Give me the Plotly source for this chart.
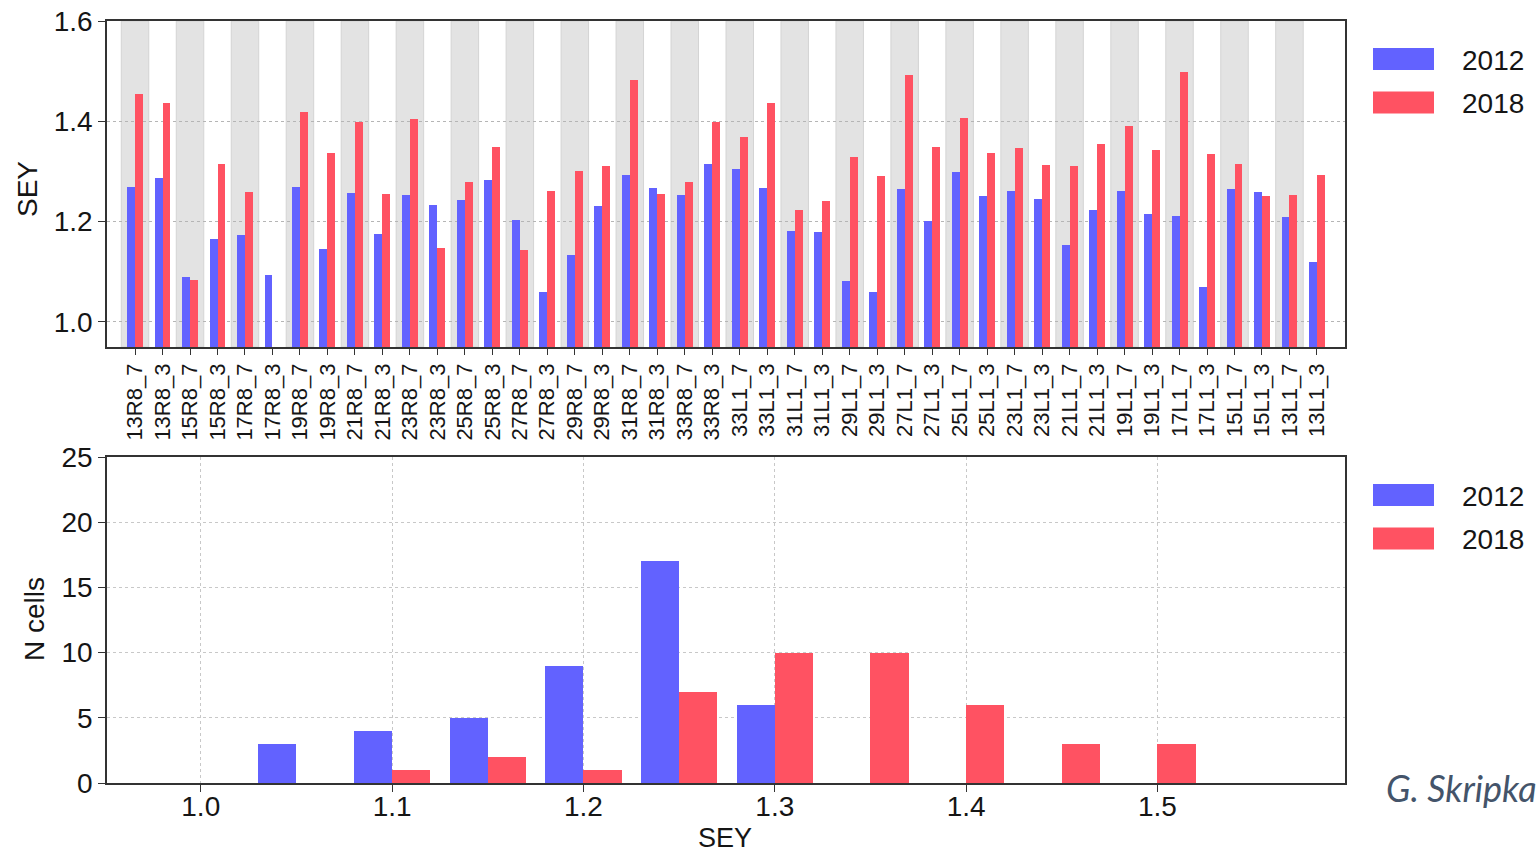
import plotly.graph_objects as go

# ---------------- data ----------------
cells = ["13R8_7", "13R8_3", "15R8_7", "15R8_3", "17R8_7", "17R8_3", "19R8_7", "19R8_3",
         "21R8_7", "21R8_3", "23R8_7", "23R8_3", "25R8_7", "25R8_3", "27R8_7", "27R8_3",
         "29R8_7", "29R8_3", "31R8_7", "31R8_3", "33R8_7", "33R8_3", "33L1_7", "33L1_3",
         "31L1_7", "31L1_3", "29L1_7", "29L1_3", "27L1_7", "27L1_3", "25L1_7", "25L1_3",
         "23L1_7", "23L1_3", "21L1_7", "21L1_3", "19L1_7", "19L1_3", "17L1_7", "17L1_3",
         "15L1_7", "15L1_3", "13L1_7", "13L1_3"]

sey_2012 = [1.270, 1.287, 1.090, 1.165, 1.173, 1.093, 1.270, 1.145,
            1.257, 1.176, 1.254, 1.234, 1.243, 1.282, 1.204, 1.059,
            1.134, 1.232, 1.293, 1.268, 1.254, 1.315, 1.304, 1.268,
            1.182, 1.179, 1.082, 1.059, 1.265, 1.201, 1.298, 1.251,
            1.262, 1.246, 1.154, 1.223, 1.262, 1.215, 1.212, 1.070,
            1.265, 1.260, 1.209, 1.120]

sey_2018 = [1.454, 1.437, 1.084, 1.315, 1.260, None, 1.418, 1.337,
            1.399, 1.256, 1.404, 1.148, 1.279, 1.349, 1.143, 1.262,
            1.301, 1.310, 1.482, 1.256, 1.279, 1.399, 1.368, 1.437,
            1.223, 1.242, 1.329, 1.290, 1.493, 1.349, 1.407, 1.337,
            1.346, 1.312, 1.310, 1.354, 1.391, 1.343, 1.499, 1.335,
            1.315, 1.251, 1.254, 1.293]

bin_centers = [1.05, 1.10, 1.15, 1.20, 1.25, 1.30, 1.35, 1.40, 1.45, 1.50]
count_2012 = [3, 4, 5, 9, 17, 6, 0, 0, 0, 0]
count_2018 = [0, 1, 2, 1, 7, 10, 10, 6, 3, 3]

years = ["2012", "2018"]

# ---------------- style ----------------
BLUE = "#6262ff"
RED = "#ff5262"
FONT = "Liberation Sans, Arial, sans-serif"
TXT = "#151515"
W, H = 1537, 855


def px_x(p):
    return p / W


def px_y(p):
    return 1 - p / H


fig = go.Figure()

idx = list(range(len(cells)))
bw = 0.29
fig.add_trace(go.Bar(x=idx, y=sey_2012, width=bw, offset=-bw, marker_color=BLUE,
                     marker_line_width=0, name=years[0], showlegend=False,
                     xaxis="x", yaxis="y"))
fig.add_trace(go.Bar(x=idx, y=sey_2018, width=bw, offset=0, marker_color=RED,
                     marker_line_width=0, name=years[1], showlegend=False,
                     xaxis="x", yaxis="y"))

hw = 0.02
fig.add_trace(go.Bar(x=bin_centers, y=count_2012, width=hw, offset=-hw, marker_color=BLUE,
                     marker_line_width=0, name=years[0], showlegend=False,
                     xaxis="x2", yaxis="y2"))
fig.add_trace(go.Bar(x=bin_centers, y=count_2018, width=hw, offset=0, marker_color=RED,
                     marker_line_width=0, name=years[1], showlegend=False,
                     xaxis="x2", yaxis="y2"))

shapes = []
# alternating grey bands behind the "_7" cells
for i in range(0, len(cells), 2):
    shapes.append(dict(type="rect", xref="x", yref="y domain", x0=i - 0.5, x1=i + 0.5,
                       y0=0, y1=1, fillcolor="#e3e3e3", line=dict(color="#d4d4d4", width=1),
                       layer="below"))

annotations = []
# legends (wide swatches)
for top in (48, 484):
    for k, (col, yr) in enumerate(zip([BLUE, RED], years)):
        y0 = top + k * 43.5
        shapes.append(dict(type="rect", xref="paper", yref="paper",
                           x0=px_x(1373), x1=px_x(1434), y0=px_y(y0 + 22), y1=px_y(y0),
                           fillcolor=col, line=dict(width=0)))
        annotations.append(dict(text=yr, xref="paper", yref="paper", x=px_x(1460),
                                y=px_y(y0 + 12), xanchor="left", yanchor="middle",
                                showarrow=False, font=dict(size=28, color=TXT, family=FONT)))

# axis titles
title_font = dict(size=28, color=TXT, family=FONT)
annotations.append(dict(text="SEY", xref="paper", yref="paper", x=px_x(27), y=px_y(189),
                        textangle=-90, xanchor="center", yanchor="middle", showarrow=False,
                        font=title_font))
annotations.append(dict(text="N cells", xref="paper", yref="paper", x=px_x(34), y=px_y(619),
                        textangle=-90, xanchor="center", yanchor="middle", showarrow=False,
                        font=title_font))
annotations.append(dict(text="SEY", xref="paper", yref="paper", x=px_x(725), y=0,
                        xanchor="center", yanchor="bottom", showarrow=False,
                        font=dict(size=27, color=TXT, family=FONT)))

annotations.append(dict(text="<i>G. Skripka</i>", xref="paper", yref="paper",
                        x=px_x(1384), y=px_y(788), xanchor="left", yanchor="middle",
                        showarrow=False,
                        font=dict(size=36, color="#44546a", family="Lato, Open Sans, sans-serif")))

axis_common = dict(showline=True, linecolor="#333", linewidth=1.5, mirror=True,
                   ticks="outside", ticklen=7, tickcolor="#333", automargin=False,
                   zeroline=False, tickfont=dict(size=28, color=TXT, family=FONT))

fig.update_layout(
    width=W, height=H,
    margin=dict(l=0, r=0, t=0, b=0),
    paper_bgcolor="white", plot_bgcolor="white",
    font=dict(family=FONT, color=TXT),
    shapes=shapes, annotations=annotations,
    bargap=0, bargroupgap=0,
    xaxis=dict(domain=[px_x(107), px_x(1345)], anchor="y", range=[-1.02, 44.02],
               tickmode="array", tickvals=idx, ticktext=cells, tickangle=-90,
               showgrid=False,
               **{**axis_common, "ticklen": 6,
                  "tickfont": dict(size=22, color=TXT, family=FONT)}),
    yaxis=dict(domain=[px_y(347), px_y(21)], anchor="x", range=[0.95, 1.6],
               tickvals=[1.0, 1.2, 1.4, 1.6], tickformat=".1f",
               showgrid=True, gridcolor="#b5b5b5", griddash="dot", gridwidth=1,
               **axis_common),
    xaxis2=dict(domain=[px_x(107), px_x(1345)], anchor="y2", range=[0.951, 1.598],
                tickvals=[1.0, 1.1, 1.2, 1.3, 1.4, 1.5], tickformat=".1f",
                ticklabelstandoff=-9,
                showgrid=True, gridcolor="#c8c8c8", griddash="dot", gridwidth=1,
                **axis_common),
    yaxis2=dict(domain=[px_y(783), px_y(457)], anchor="x2", range=[0, 25],
                tickvals=[0, 5, 10, 15, 20, 25],
                showgrid=True, gridcolor="#c8c8c8", griddash="dot", gridwidth=1,
                **axis_common),
)

fig.write_html("out.html")
